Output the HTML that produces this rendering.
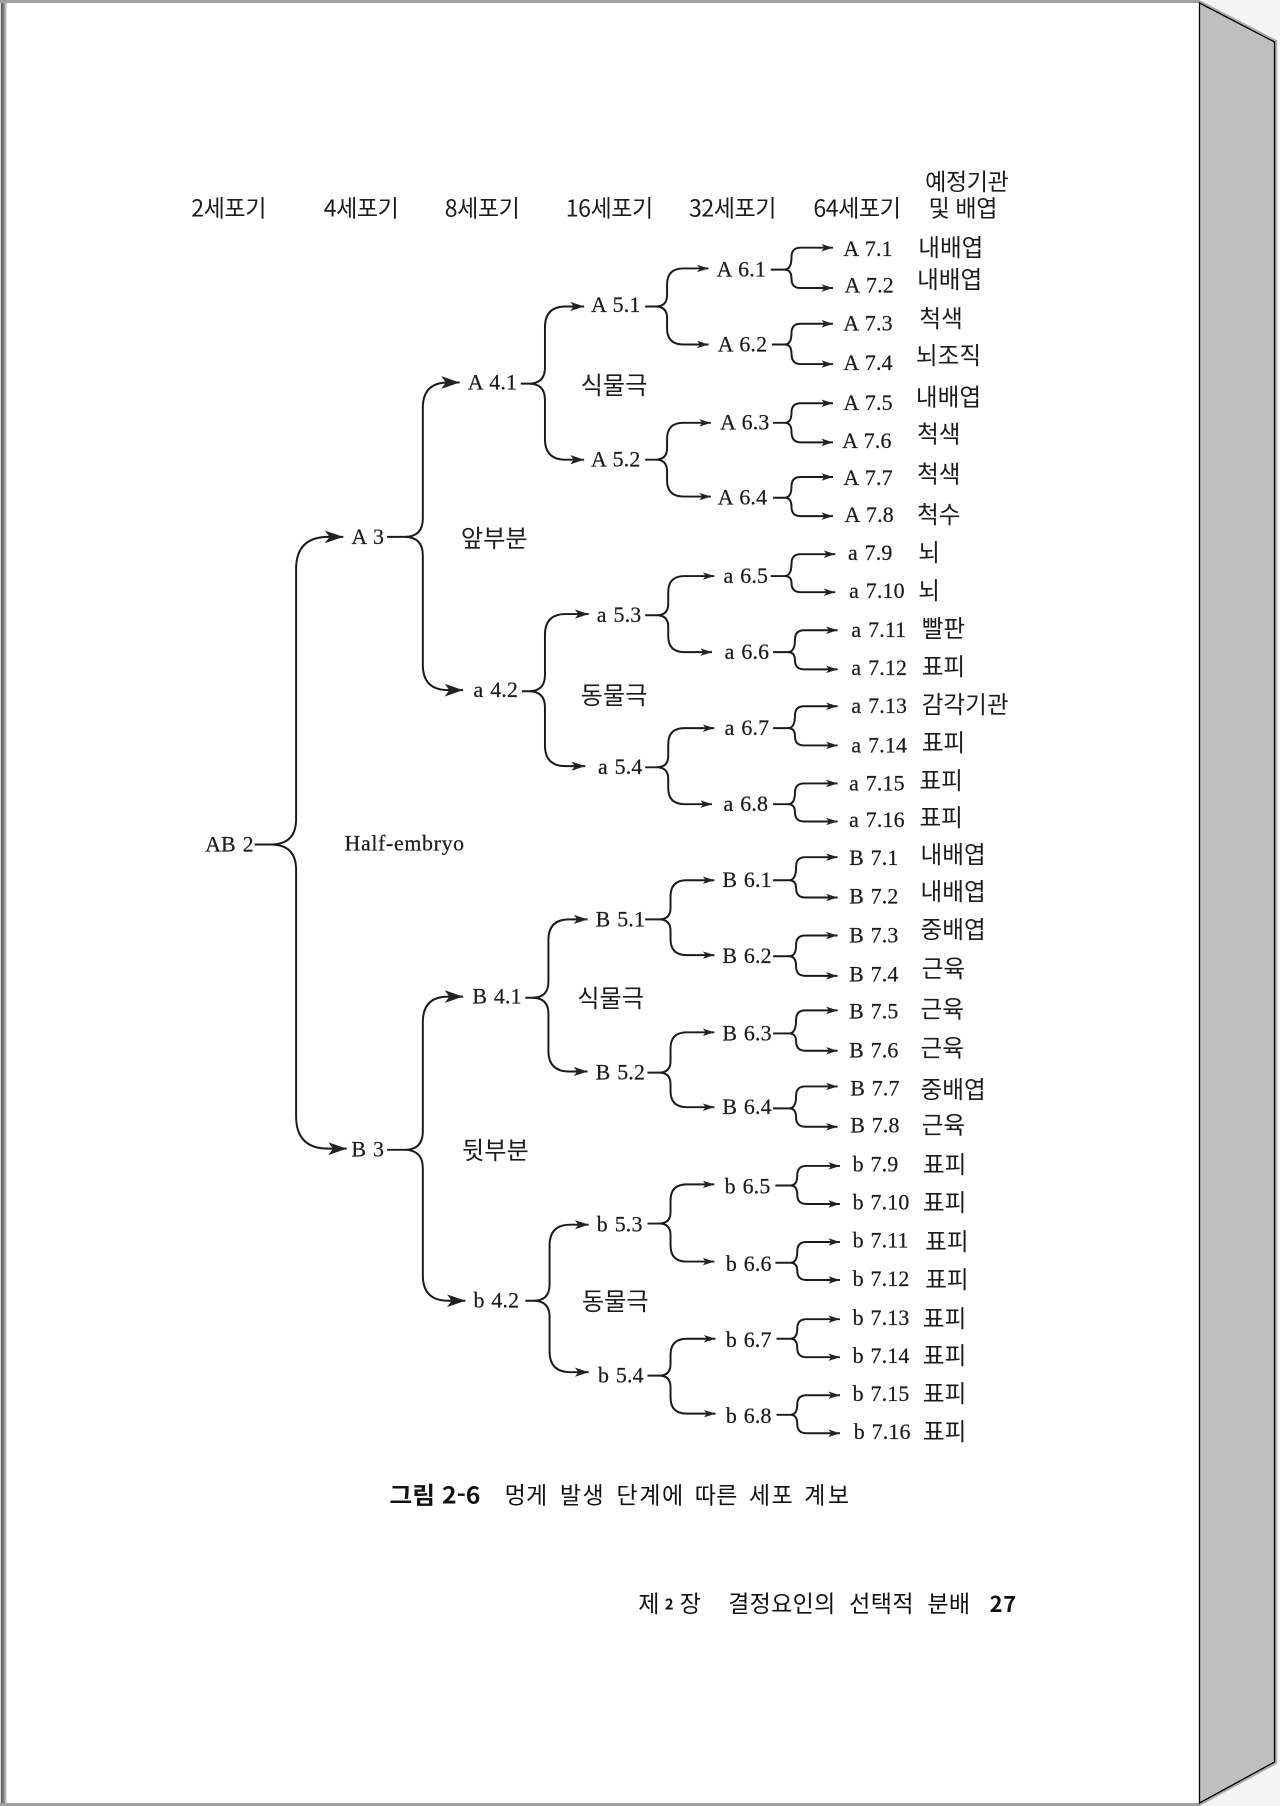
<!DOCTYPE html>
<html lang="ko"><head><meta charset="utf-8"><title>그림 2-6</title>
<style>
html,body{margin:0;padding:0;background:#f5f5f5}
svg{display:block}
.l{font:19px "Liberation Serif","Noto Serif CJK KR",serif;fill:#1c1c1c;stroke:#1c1c1c;stroke-width:.2px;letter-spacing:.15px;word-spacing:1px}
.k{font:20.5px "Noto Sans CJK KR","NanumGothic",sans-serif;fill:#1c1c1c}
.g{font:21px "Noto Sans CJK KR","NanumGothic",sans-serif;fill:#1c1c1c}
.h{font:20px "Noto Sans CJK KR","NanumGothic",sans-serif;fill:#1c1c1c;letter-spacing:-.35px}
.c{font:20px "Noto Sans CJK KR","NanumGothic",sans-serif;fill:#111}
.b{font-weight:700}
path.a{fill:none;stroke:#1a1a1a;stroke-width:1.7;stroke-linejoin:round}
path.a1{marker-start:url(#mb);marker-end:url(#mb)}
path.a2{marker-start:url(#mm);marker-end:url(#mm)}
path.a3{marker-start:url(#ms);marker-end:url(#ms)}
</style></head><body>
<svg xmlns="http://www.w3.org/2000/svg" width="1280" height="1806" viewBox="0 0 1280 1806">
<defs>
<marker id="mb" viewBox="0 0 10 10" refX="10" refY="5" markerUnits="userSpaceOnUse" markerWidth="16" markerHeight="11" orient="auto-start-reverse" preserveAspectRatio="none"><path d="M10 5L0 0L2.5 5L0 10Z" fill="#222"/></marker>
<marker id="mm" viewBox="0 0 10 10" refX="10" refY="5" markerUnits="userSpaceOnUse" markerWidth="12" markerHeight="8" orient="auto-start-reverse" preserveAspectRatio="none"><path d="M10 5L0 0L2.5 5L0 10Z" fill="#222"/></marker>
<marker id="ms" viewBox="0 0 10 10" refX="10" refY="5" markerUnits="userSpaceOnUse" markerWidth="10" markerHeight="6.5" orient="auto-start-reverse" preserveAspectRatio="none"><path d="M10 5L0 0L2.5 5L0 10Z" fill="#222"/></marker>
<linearGradient id="lg" x1="0" x2="1" y1="0" y2="0"><stop offset="0" stop-color="#555"/><stop offset=".5" stop-color="#888"/><stop offset="1" stop-color="#eee"/></linearGradient>
</defs>
<rect width="1280" height="1806" fill="#f5f5f5"/>
<rect x="0" y="0" width="1199" height="1806" fill="#fff"/>
<rect x="0" y="0" width="1" height="1806" fill="#ddd"/>
<rect x="1" y="3" width="6" height="1800" fill="url(#lg)"/>
<rect x="0" y="0" width="1200" height="3" fill="#a0a0a0"/>
<rect x="0" y="1803" width="1200" height="3" fill="#a0a0a0"/>
<polyline points="1200,1.5 1276,41 1276,1763 1200,1804.5" fill="none" stroke="#aaa" stroke-width="2.2"/>
<polygon points="1199.5,3 1274.5,42 1274.5,1762 1199.5,1803" fill="#bfbfbf" stroke="#000" stroke-width="1.3"/>
<g transform="scale(1.15212)">
<path class="a a1" d="M298 466H285Q257 466 257 494V711Q257 733 235 733H221M235 733Q257 733 257 755V969Q257 997 285 997H301"/>
<path class="a a1" d="M399 332H389Q367 332 367 354V450Q367 466 351 466H336M351 466Q367 466 367 482V577Q367 599 389 599H402"/>
<path class="a a1" d="M402 865H389Q367 865 367 887V982Q367 998 351 998H336M351 998Q367 998 367 1014V1107Q367 1129 389 1129H404"/>
<path class="a a2" d="M507 266H491Q473 266 473 284V319Q473 333 459 333H452M459 333Q473 333 473 347V381Q473 399 491 399H507"/>
<path class="a a2" d="M511 533H491Q473 533 473 551V586Q473 600 459 600H453M459 600Q473 600 473 614V647Q473 665 491 665H508"/>
<path class="a a2" d="M510 798H494Q476 798 476 816V852Q476 866 462 866H456M462 866Q476 866 476 880V912Q476 930 494 930H510"/>
<path class="a a2" d="M511 1063H495Q477 1063 477 1081V1115Q477 1129 463 1129H456M463 1129Q477 1129 477 1143V1173Q477 1191 495 1191H511"/>
<path class="a a3" d="M615 233H593Q579 233 579 247V256Q579 266 569 266H560M569 266Q579 266 579 276V285Q579 299 593 299H615"/>
<path class="a a3" d="M617 367H593Q579 367 579 381V389Q579 399 569 399H560M569 399Q579 399 579 409V417Q579 431 593 431H617"/>
<path class="a a3" d="M620 500H594Q580 500 580 514V524Q580 534 570 534H560M570 534Q580 534 580 544V552Q580 566 594 566H618"/>
<path class="a a3" d="M620 632H594Q580 632 580 646V656Q580 666 570 666H560M570 666Q580 666 580 676V684Q580 698 594 698H618"/>
<path class="a a3" d="M620 764H596Q582 764 582 778V788Q582 798 572 798H560M572 798Q582 798 582 808V815Q582 829 596 829H620"/>
<path class="a a3" d="M620 896H596Q582 896 582 910V921Q582 931 572 931H562M572 931Q582 931 582 941V947Q582 961 596 961H620"/>
<path class="a a3" d="M620 1028H596Q582 1028 582 1042V1052Q582 1062 572 1062H562M572 1062Q582 1062 582 1072V1081Q582 1095 596 1095H620"/>
<path class="a a3" d="M621 1162H596Q582 1162 582 1176V1184Q582 1194 572 1194H562M572 1194Q582 1194 582 1204V1213Q582 1227 596 1227H621"/>
<path class="a a3" d="M723 215H695Q687 215 687 223Q687 234 681 234H669M681 234Q687 234 687 242Q687 250 695 250H723"/>
<path class="a a3" d="M723 281H695Q687 281 687 289Q687 299 681 299H670M681 299Q687 299 687 307Q687 316 695 316H723"/>
<path class="a a3" d="M723 350H695Q687 350 687 358Q687 367 681 367H671M681 367Q687 367 687 375Q687 384 695 384H723"/>
<path class="a a3" d="M723 414H695Q687 414 687 422Q687 432 681 432H671M681 432Q687 432 687 440Q687 448 695 448H723"/>
<path class="a a3" d="M725 481H695Q687 481 687 489Q687 500 681 500H669M681 500Q687 500 687 506Q687 514 695 514H725"/>
<path class="a a3" d="M727 547H698Q690 547 690 555Q690 566 684 566H671M684 566Q690 566 690 573Q690 581 698 581H727"/>
<path class="a a3" d="M727 613H698Q690 613 690 621Q690 632 684 632H671M684 632Q690 632 690 639Q690 647 698 647H727"/>
<path class="a a3" d="M727 680H698Q690 680 690 688Q690 698 684 698H671M684 698Q690 698 690 705Q690 713 698 713H727"/>
<path class="a a3" d="M727 744H699Q691 744 691 752Q691 764 685 764H671M685 764Q691 764 691 771Q691 779 699 779H727"/>
<path class="a a3" d="M727 812H699Q691 812 691 820Q691 830 685 830H671M685 830Q691 830 691 839Q691 847 699 847H727"/>
<path class="a a3" d="M727 877H699Q691 877 691 885Q691 897 685 897H671M685 897Q691 897 691 904Q691 912 699 912H727"/>
<path class="a a3" d="M727 943H699Q691 943 691 951Q691 962 685 962H671M685 962Q691 962 691 970Q691 978 699 978H727"/>
<path class="a a3" d="M729 1012H700Q692 1012 692 1020Q692 1029 686 1029H673M686 1029Q692 1029 692 1037Q692 1045 700 1045H729"/>
<path class="a a3" d="M729 1078H700Q692 1078 692 1086Q692 1096 686 1096H673M686 1096Q692 1096 692 1103Q692 1111 700 1111H729"/>
<path class="a a3" d="M729 1145H700Q692 1145 692 1153Q692 1162 686 1162H674M686 1162Q692 1162 692 1170Q692 1178 700 1178H729"/>
<path class="a a3" d="M729 1211H700Q692 1211 692 1219Q692 1228 686 1228H674M686 1228Q692 1228 692 1236Q692 1244 700 1244H729"/>

<g transform="translate(0,1)">
<text class="h" x="166" y="187">2세포기</text>
<text class="h" x="281" y="187">4세포기</text>
<text class="h" x="386" y="187">8세포기</text>
<text class="h" x="491" y="187">16세포기</text>
<text class="h" x="598" y="187">32세포기</text>
<text class="h" x="706" y="187">64세포기</text>
<text class="h" x="803" y="164">예정기관</text>
<text class="h" x="806" y="187">및 배엽</text>
</g>

<text class="l" x="178" y="739">AB 2</text>
<text class="l" x="305" y="472">A 3</text>
<text class="l" x="305" y="1004">B 3</text>
<text class="l" x="299" y="738" textLength="104">Half-embryo</text>
<text class="l" x="406" y="338">A 4.1</text>
<text class="l" x="411" y="605">a 4.2</text>
<text class="l" x="410" y="871">B 4.1</text>
<text class="l" x="411" y="1135">b 4.2</text>
<text class="l" x="513" y="271">A 5.1</text>
<text class="l" x="513" y="405">A 5.2</text>
<text class="l" x="518" y="540">a 5.3</text>
<text class="l" x="519" y="672">a 5.4</text>
<text class="l" x="517" y="804">B 5.1</text>
<text class="l" x="517" y="937">B 5.2</text>
<text class="l" x="518" y="1069">b 5.3</text>
<text class="l" x="519" y="1200">b 5.4</text>
<text class="l" x="622" y="240">A 6.1</text>
<text class="l" x="623" y="305">A 6.2</text>
<text class="l" x="625" y="373">A 6.3</text>
<text class="l" x="623" y="438">A 6.4</text>
<text class="l" x="628" y="506">a 6.5</text>
<text class="l" x="629" y="572">a 6.6</text>
<text class="l" x="629" y="638">a 6.7</text>
<text class="l" x="628" y="704">a 6.8</text>
<text class="l" x="627" y="770">B 6.1</text>
<text class="l" x="627" y="836">B 6.2</text>
<text class="l" x="627" y="903">B 6.3</text>
<text class="l" x="627" y="967">B 6.4</text>
<text class="l" x="629" y="1036">b 6.5</text>
<text class="l" x="630" y="1103">b 6.6</text>
<text class="l" x="630" y="1169">b 6.7</text>
<text class="l" x="630" y="1235">b 6.8</text>

<text class="l" x="732" y="222">A 7.1</text>
<text class="l" x="733" y="254">A 7.2</text>
<text class="l" x="732" y="287">A 7.3</text>
<text class="l" x="732" y="321">A 7.4</text>
<text class="l" x="732" y="356">A 7.5</text>
<text class="l" x="731" y="389">A 7.6</text>
<text class="l" x="732" y="421">A 7.7</text>
<text class="l" x="733" y="453">A 7.8</text>
<text class="l" x="736" y="486">a 7.9</text>
<text class="l" x="737" y="519">a 7.10</text>
<text class="l" x="739" y="553">a 7.11</text>
<text class="l" x="739" y="586">a 7.12</text>
<text class="l" x="739" y="619">a 7.13</text>
<text class="l" x="739" y="653">a 7.14</text>
<text class="l" x="737" y="686">a 7.15</text>
<text class="l" x="737" y="718">a 7.16</text>
<text class="l" x="737" y="751">B 7.1</text>
<text class="l" x="737" y="784">B 7.2</text>
<text class="l" x="737" y="818">B 7.3</text>
<text class="l" x="737" y="852">B 7.4</text>
<text class="l" x="737" y="884">B 7.5</text>
<text class="l" x="737" y="918">B 7.6</text>
<text class="l" x="738" y="951">B 7.7</text>
<text class="l" x="738" y="983">B 7.8</text>
<text class="l" x="740" y="1017">b 7.9</text>
<text class="l" x="740" y="1050">b 7.10</text>
<text class="l" x="740" y="1083">b 7.11</text>
<text class="l" x="740" y="1116">b 7.12</text>
<text class="l" x="740" y="1150">b 7.13</text>
<text class="l" x="740" y="1183">b 7.14</text>
<text class="l" x="740" y="1216">b 7.15</text>
<text class="l" x="741" y="1249">b 7.16</text>

<g transform="translate(0,1)">
<text class="k" x="797" y="221">내배엽</text>
<text class="k" x="796" y="249">내배엽</text>
<text class="k" x="798" y="283">척색</text>
<text class="k" x="795" y="315">뇌조직</text>
<text class="k" x="795" y="351">내배엽</text>
<text class="k" x="796" y="383">척색</text>
<text class="k" x="796" y="418">척색</text>
<text class="k" x="796" y="453">척수</text>
<text class="k" x="797" y="486">뇌</text>
<text class="k" x="797" y="519">뇌</text>
<text class="k" x="800" y="552">빨판</text>
<text class="k" x="800" y="585">표피</text>
<text class="k" x="800" y="618">감각기관</text>
<text class="k" x="800" y="651">표피</text>
<text class="k" x="798" y="684">표피</text>
<text class="k" x="798" y="716">표피</text>
<text class="k" x="799" y="748">내배엽</text>
<text class="k" x="799" y="780">내배엽</text>
<text class="k" x="799" y="813">중배엽</text>
<text class="k" x="800" y="847">근육</text>
<text class="k" x="799" y="882">근육</text>
<text class="k" x="799" y="916">근육</text>
<text class="k" x="799" y="952">중배엽</text>
<text class="k" x="800" y="983">근육</text>
<text class="k" x="801" y="1017">표피</text>
<text class="k" x="801" y="1050">표피</text>
<text class="k" x="803" y="1084">표피</text>
<text class="k" x="803" y="1117">표피</text>
<text class="k" x="801" y="1151">표피</text>
<text class="k" x="801" y="1183">표피</text>
<text class="k" x="801" y="1216">표피</text>
<text class="k" x="801" y="1249">표피</text>

<text class="g" x="504" y="341">식물극</text>
<text class="g" x="400" y="474">앞부분</text>
<text class="g" x="504" y="610">동물극</text>
<text class="g" x="501" y="873">식물극</text>
<text class="g" x="401" y="1005">뒷부분</text>
<text class="g" x="505" y="1136">동물극</text>
</g>

<text class="c b" x="338" y="1305" textLength="79" lengthAdjust="spacingAndGlyphs">그림 2-6</text>
<text class="c" x="438" y="1305" textLength="37">멍게</text>
<text class="c" x="486" y="1305" textLength="38">발생</text>
<text class="c" x="535" y="1305" textLength="58">단계에</text>
<text class="c" x="603" y="1305" textLength="37">따른</text>
<text class="c" x="650" y="1305" textLength="38">세포</text>
<text class="c" x="698" y="1305" textLength="39">계보</text>

<text class="c" x="554" y="1399">제</text>
<text class="c b" x="577" y="1397" style="font-size:13px">2</text>
<text class="c" x="590" y="1399">장</text>
<text class="c" x="632" y="1399" textLength="93">결정요인의</text>
<text class="c" x="737" y="1399" textLength="56">선택적</text>
<text class="c" x="805" y="1399" textLength="37">분배</text>
<text class="c b" x="859" y="1399" style="font-size:19px" textLength="23">27</text>
</g>
</svg>
</body></html>
